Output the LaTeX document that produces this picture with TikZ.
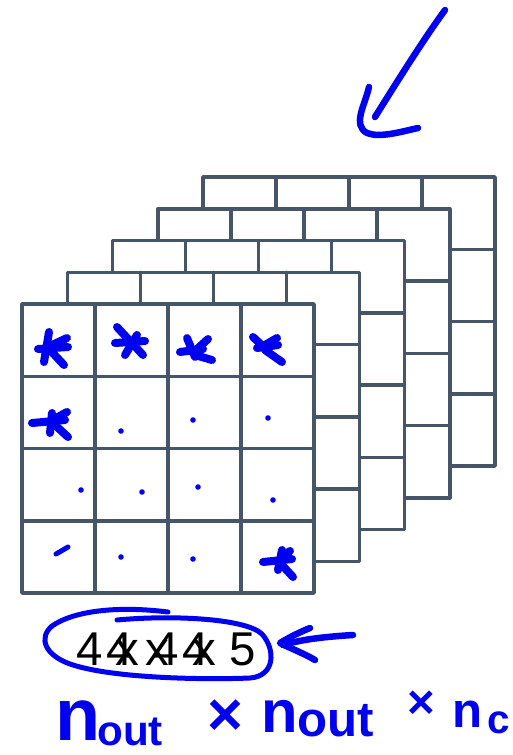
\documentclass[tikz,border=0pt]{standalone}
\usepackage{fontspec}
\setmainfont{Liberation Sans}
\usetikzlibrary{positioning}
\usetikzlibrary{calc}
\definecolor{slate}{RGB}{71,85,105}
\definecolor{ink}{RGB}{0,0,240}

\begin{document}
\begin{tikzpicture}[x=0.02cm,y=-0.02cm]
			\tikzstyle{grid line}=[draw=slate,line width=0.07cm,line join=round,line cap=round]
			\tikzstyle{ink stroke}=[draw=ink,line width=0.16cm,line cap=round,line join=round]
			\tikzstyle{ink arrow}=[draw=ink,line width=0.13cm,line cap=round,line join=round]
			\tikzstyle{ink thin}=[draw=ink,line width=0.1cm,line cap=round,line join=round]
			\tikzstyle{ink dot}=[fill=ink]
			\tikzstyle{hand}=[text=ink,inner sep=0pt,anchor=base west]
			\tikzstyle{dims}=[inner sep=0pt,anchor=base west,font=\fontsize{27}{30}\selectfont]
			
			\useasboundingbox (0,0) rectangle (513,755);
			
			% stack of channels, back to front
			\foreach \k in {4,3,2,1,0}{
				\begin{scope}[shift={({45.25*\k},{-31.75*\k})}]
					\filldraw[grid line,fill=white] (22,304) rectangle (314,593);
					\foreach \i in {1,2,3}{
						\draw[grid line] ({22+73*\i},304) -- ({22+73*\i},593);
						\draw[grid line] (22,{304+72.25*\i}) -- (314,{304+72.25*\i});
					}
				\end{scope}
			}
			
			% marks in the front channel
			\path[ink stroke] (49,332) edge (44,362) (38,349) edge (68,347)
				(50,350) edge (64,365) (52,345) edge (67,338);
			\path[ink stroke] (117,327) edge (143,355) (115,343) edge (145,341)
				(137,335) edge (125,355);
			\path[ink stroke] (187,338) edge (195,357) (180,352) edge (203,349)
				(195,355) edge (212,360) (196,350) edge (208,339);
			\path[ink stroke] (253,337) edge (267,350) (257,348) edge (278,345)
				(265,350) edge (282,362) (265,345) edge (277,338);
			\path[ink stroke] (32,423) edge (65,420) (52,413) edge (50,433)
				(55,425) edge (68,437) (56,418) edge (67,412);
			\path[ink stroke] (263,562) edge (292,559) (282,550) edge (278,570)
				(282,565) edge (293,577) (283,556) edge (290,551);
			\path[ink thin] (56,554) edge (68,547);
			\foreach \p in {(121,431),(193,420),(268,418),(81,490),(142,492),(198,487),(273,500),(121,557),(193,559)}
				\fill[ink dot] \p circle (2.8);
			
			% size of the output
			\node[dims] (dima) at (76,665) {4 x 4 x 5};
			\node[dims] (dimb) at (106,665) {4 x 4};
			\draw[ink thin] (168,612) .. controls (120,606) and (75,610) .. (52,626)
				.. controls (38,638) and (45,655) .. (70,664)
				.. controls (110,678) and (200,680) .. (250,678)
				.. controls (275,676) and (276,650) .. (262,634)
				.. controls (245,618) and (170,615) .. (117,620);
			
			% arrows
			\coordinate (top tail) at (445,10);
			\coordinate (top tip) at (375,117);
			\coordinate (head a) at (369,87);
			\coordinate (head b) at (418,128);
			\draw[ink arrow] (top tail) -- (440,17) .. controls (420,45) and (395,85) .. (top tip);
			\draw[ink arrow] (head a) .. controls (365,105) and (352,125) .. (367,133)
				.. controls (380,138) and (400,132) .. (head b);
			\coordinate (side tail) at (353,635);
			\coordinate (side tip) at (283,645);
			\draw[ink arrow] (side tail) .. controls (320,637) and (300,640) .. (side tip);
			\draw[ink arrow] (310,628) .. controls (295,634) and (285,640) .. (280,643)
				.. controls (290,648) and (305,654) .. (315,660);
			
			% handwritten dimensions
			\node[hand,font=\fontsize{42}{42}\selectfont\bfseries] (n a) at (55,740) {n};
			\node[hand,font=\fontsize{24}{24}\selectfont\bfseries] (out a) at (97,745) {out};
			\node[text=ink,inner sep=0pt,font=\fontsize{35}{35}\selectfont\bfseries] (times a) at (225,718) {×};
			\node[hand,font=\fontsize{34}{34}\selectfont\bfseries] (n b) at (261,732) {n};
			\node[hand,font=\fontsize{28}{28}\selectfont\bfseries] (out b) at (297,736) {out};
			\node[text=ink,inner sep=0pt,font=\fontsize{27}{27}\selectfont\bfseries] (times b) at (421,705) {×};
			\node[hand,font=\fontsize{28}{28}\selectfont\bfseries] (n c) at (452,727) {n};
			\node[hand,font=\fontsize{23}{23}\selectfont\bfseries] (sub c) at (487,733) {c};
		\end{tikzpicture}
\end{document}
